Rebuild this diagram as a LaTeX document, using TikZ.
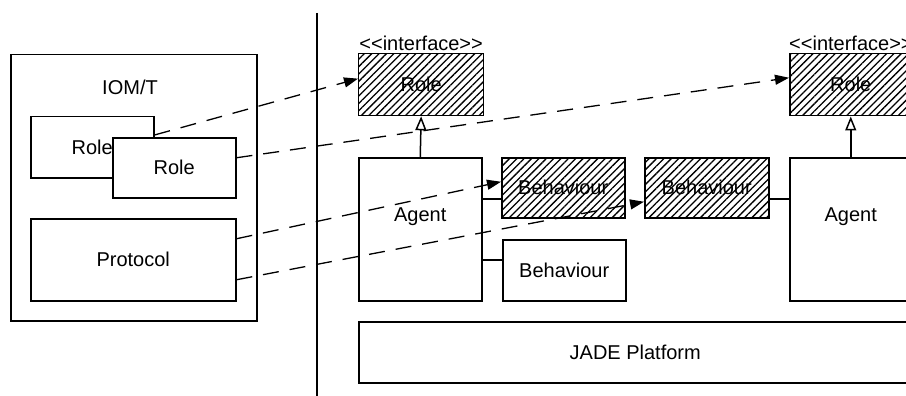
\documentclass[tikz,border=0pt]{standalone}
\usepackage{fontspec}
\setmainfont{Liberation Sans}
\usetikzlibrary{arrows.meta,patterns.meta,calc}

\tikzset{
  txt/.style={font=\fontsize{20}{24}\selectfont},
  box/.style={draw, line width=1.5pt, fill=white, inner sep=0pt,
    anchor=north west, txt},
  hatched/.style={box, pattern={Lines[angle=45,distance=5.2pt,line width=1.3pt]}},
  link/.style={line width=1.5pt},
  dep/.style={line width=1.3pt, dash pattern=on 16pt off 11pt,
    -{Triangle[length=14pt,width=10pt]}},
  inherit/.style={line width=1.5pt,
    -{Triangle[open,length=14pt,width=11pt,fill=white]}},
}

\begin{document}
\begin{tikzpicture}[x=1pt,y=-1pt]
\useasboundingbox (0,0) rectangle (906,396);
\clip (0,0) rectangle (906,396);

% separator between the organisation model and the platform
\draw[line width=1.5pt] (317,13) coordinate (septop) -- (317,396) coordinate (sepbot);

% IOM/T side
\node[box, minimum width=246pt, minimum height=266pt] (iomt) at (10,54) {};
\node[txt] (iomtlbl) at (130,87) {IOM/T};
\node[box, minimum width=123pt, minimum height=61pt] (roleA) at (30,116) {Role};
\node[box, minimum width=123pt, minimum height=60pt] (roleB) at (112,137) {Role};
\node[box, minimum width=205pt, minimum height=82pt] (proto) at (30,218) {Protocol};

% JADE side: interfaces
\node[hatched, minimum width=125pt, minimum height=62pt] (ifA) at (358,53) {Role};
\node[txt, anchor=base, inner sep=0pt] (ifAlbl) at ([yshift=2.5pt]ifA.north) {<\kern0pt<interface>\kern0pt>};
\node[hatched, minimum width=122pt, minimum height=62pt] (ifB) at (789,53) {Role};
\node[txt, anchor=base west, inner sep=0pt] (ifBlbl) at ([yshift=2.5pt]ifB.north west) {<\kern0pt<interface>\kern0pt>};

% agents and behaviours
\node[box, minimum width=123pt, minimum height=143pt,
  label={[txt, yshift=12.5pt]center:Agent}] (agentA) at (358,157) {};
\node[box, minimum width=122pt, minimum height=143pt,
  label={[txt, yshift=12.5pt]center:Agent}] (agentB) at (789,157) {};
\node[hatched, minimum width=123pt, minimum height=60pt] (behA) at (501,157) {Behaviour};
\node[hatched, minimum width=124pt, minimum height=60pt] (behB) at (644,157) {Behaviour};
\node[box, minimum width=123pt, minimum height=61pt] (behC) at (502,239) {Behaviour};

% platform
\node[box, minimum width=553pt, minimum height=61pt] (jade) at (358,321) {JADE Platform};

% composition links
\coordinate (ca) at ([yshift=-11pt]behA.west);
\draw[link] (ca) -- (ca -| agentA.east);
\coordinate (cb) at ([yshift=-11pt]behB.east);
\draw[link] (cb) -- (cb -| agentB.west);
\coordinate (cc) at ([yshift=10.5pt]behC.west);
\draw[link] (cc) -- (cc -| agentA.east);

% realisation of the interfaces
\draw[inherit] (agentA.north) -- (ifA.south);
\draw[inherit] (agentB.north) -- (ifB.south);

% mapping from IOM/T onto JADE
\draw[dep] ([yshift=-19pt]roleA.north east) -- ([yshift=6pt]ifA.west);
\draw[dep] ([yshift=10pt]roleB.east) -- ([yshift=7pt]ifB.west);
\draw[dep] ([yshift=21pt]proto.east) -- ([yshift=6pt]behA.west);
\draw[dep] ([yshift=-20pt]proto.east) -- ([yshift=-14pt]behB.west);
\end{tikzpicture}
\end{document}
